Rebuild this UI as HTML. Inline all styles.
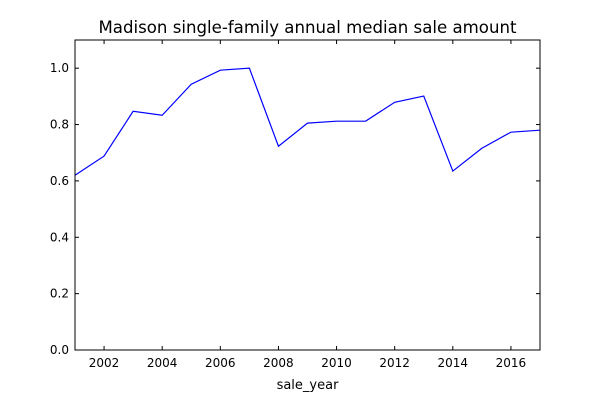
<!DOCTYPE html>
<html><head><meta charset="utf-8"><style>
body{margin:0;background:#fff}
svg text{font-family:"DejaVu Sans","Liberation Sans",sans-serif;fill:#000}
</style></head><body>
<svg id="chart" width="600" height="400" xmlns="http://www.w3.org/2000/svg">
<rect width="600" height="400" fill="#fff"/>
<text x="307.5" y="33" font-size="16.6" text-anchor="middle">Madison single-family annual median sale amount</text>
<g id="ticks"></g>
<path id="line" fill="none" stroke="#0000ff" stroke-width="1.2"/>
<rect x="75" y="40" width="465" height="310" fill="none" stroke="#000" stroke-width="1"/>
<text x="307.5" y="389" font-size="13" text-anchor="middle">sale_year</text>
</svg>
<script>
const years=[2001,2002,2003,2004,2005,2006,2007,2008,2009,2010,2011,2012,2013,2014,2015,2016,2017];
const values=[0.62,0.688,0.847,0.833,0.943,0.993,1.0,0.723,0.805,0.812,0.812,0.879,0.901,0.635,0.716,0.773,0.78];
const xTicks=[2002,2004,2006,2008,2010,2012,2014,2016];
const yTicks=[0.0,0.2,0.4,0.6,0.8,1.0];
const L=75,R=540,T=40,B=350,xmin=2001,xmax=2017,ymin=0,ymax=1.1;
const sx=v=>L+(v-xmin)/(xmax-xmin)*(R-L);
const sy=v=>B-(v-ymin)/(ymax-ymin)*(B-T);
const NS="http://www.w3.org/2000/svg";
const g=document.getElementById('ticks');
function ln(x1,y1,x2,y2){const l=document.createElementNS(NS,'line');l.setAttribute('x1',x1);l.setAttribute('y1',y1);l.setAttribute('x2',x2);l.setAttribute('y2',y2);l.setAttribute('stroke','#000');g.appendChild(l);return l;}
xTicks.forEach(t=>{const x=sx(t);
const a=ln(x,B,x,B-4);


ln(x,T,x,T+4);
const tx=document.createElementNS(NS,'text');tx.setAttribute('x',x);tx.setAttribute('y',B+17);tx.setAttribute('font-size','12');tx.setAttribute('text-anchor','middle');tx.textContent=t;


g.appendChild(tx);});
yTicks.forEach(t=>{const y=sy(t);
const a=ln(L,y,L+4,y);


ln(R,y,R-4,y);
const tx=document.createElementNS(NS,'text');tx.setAttribute('x',L-6);tx.setAttribute('y',y+4);tx.setAttribute('font-size','12');tx.setAttribute('text-anchor','end');tx.textContent=t.toFixed(1);


g.appendChild(tx);});
document.getElementById('line').setAttribute('d',years.map((y,i)=>(i?'L':'M')+sx(y)+','+sy(values[i])).join(' '));
</script>
</body></html>
